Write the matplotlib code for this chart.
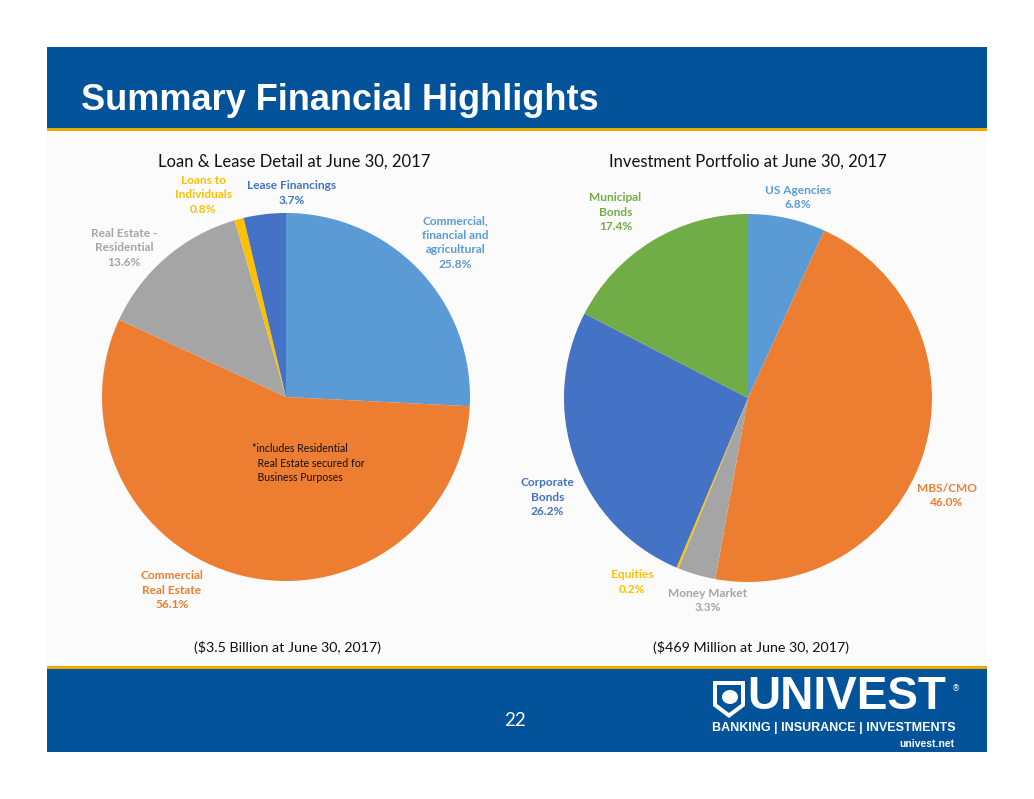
import matplotlib.pyplot as plt
from matplotlib.patches import Rectangle, Polygon, Ellipse

W, H = 1034, 799

# loan & lease mix (%)
loan_labels = ['Commercial,\nfinancial and\nagricultural', 'Commercial\nReal Estate',
               'Real Estate -\nResidential', 'Loans to\nIndividuals', 'Lease Financings']
loan_values = [25.8, 56.1, 13.6, 0.8, 3.7]

# investment portfolio mix (%)
inv_labels = ['US Agencies', 'MBS/CMO', 'Money Market', 'Equities',
              'Corporate\nBonds', 'Municipal\nBonds']
inv_values = [6.8, 46.0, 3.3, 0.2, 26.2, 17.4]

loan_colors = ['#5B9BD5', '#ED7D31', '#A5A5A5', '#FFC000', '#4472C4']
inv_colors = ['#5B9BD5', '#ED7D31', '#A5A5A5', '#FFC000', '#4472C4', '#70AD47']

# label centres, measured in pie radii from the centre
loan_label_pos = [(0.92, 0.84), (-0.62, -1.05), (-0.88, 0.81), (-0.45, 1.10), (0.03, 1.11)]
inv_label_pos = [(0.27, 1.09), (1.08, -0.53), (-0.22, -1.10), (-0.63, -1.00), (-1.09, -0.54), (-0.72, 1.01)]

BLUE = '#02539A'
GOLD = '#EEA900'
FONT = 'Lato'

fig = plt.figure(figsize=(W / 100, H / 100), dpi=100)

# page background, bands and texts in pixel coordinates
bg = fig.add_axes([0, 0, 1, 1])
bg.set_xlim(0, W)
bg.set_ylim(H, 0)
bg.axis('off')

bg.add_patch(Rectangle((47, 131), 940, 537, color='#fbfbfb', lw=0))
bg.add_patch(Rectangle((47, 47), 940, 82, color=BLUE, lw=0))
bg.add_patch(Rectangle((47, 128), 940, 3, color=GOLD, lw=0))
bg.add_patch(Rectangle((47, 666), 940, 3, color=GOLD, lw=0))
bg.add_patch(Rectangle((47, 669), 940, 83, color=BLUE, lw=0))

bg.text(81, 100, 'Summary Financial Highlights', color='white', fontsize=26,
        fontweight='bold', family='Liberation Sans', va='center', ha='left')

bg.text(294, 162, 'Loan & Lease Detail at June 30, 2017', fontsize=12,
        family=FONT, ha='center', va='center', color='#111111')
bg.text(748, 162, 'Investment Portfolio at June 30, 2017', fontsize=12,
        family=FONT, ha='center', va='center', color='#111111')

bg.text(287, 648, '($3.5 Billion at June 30, 2017)', fontsize=10.3,
        family=FONT, ha='center', va='center', color='#111111')
bg.text(751, 648, '($469 Million at June 30, 2017)', fontsize=10.3,
        family=FONT, ha='center', va='center', color='#111111')

bg.text(515, 720, '22', fontsize=13.5, family=FONT, color='white', ha='center', va='center')

# logo
bg.add_patch(Polygon([(713, 681), (745, 681), (745, 706), (729, 718), (713, 706)],
                     closed=True, color='white', lw=0))
bg.add_patch(Polygon([(717, 685), (741, 685), (741, 704), (729, 713), (717, 704)],
                     closed=True, color=BLUE, lw=0))
bg.add_patch(Ellipse((730, 697), 16, 14, color='white', lw=0))
bg.text(747, 697, 'UNIVEST', fontsize=33, fontweight='heavy', family='Liberation Sans',
        color='white', ha='left', va='center')
bg.text(956, 689, '®', fontsize=6, family='DejaVu Sans', color='white', ha='center', va='center')
bg.text(834, 728, 'BANKING | INSURANCE | INVESTMENTS', fontsize=9, fontweight='bold',
        family='Liberation Sans', color='white', ha='center', va='center')
bg.text(955, 744, 'univest.net', fontsize=7.5, fontweight='bold',
        family='Liberation Sans', color='white', ha='right', va='center')


def pie_axes(cx, cy, r, lim=1.45):
    half = r * lim
    ax = fig.add_axes([(cx - half) / W, (H - cy - half) / H, 2 * half / W, 2 * half / H])
    return ax


def draw_pie(ax, values, labels, colors, label_pos):
    ax.pie(values, colors=colors, startangle=90, counterclock=False, radius=1,
           wedgeprops=dict(linewidth=0))
    ax.set_xlim(-1.45, 1.45)
    ax.set_ylim(-1.45, 1.45)
    ax.set_aspect('equal')
    ax.axis('off')
    for lab, val, col, (x, y) in zip(labels, values, colors, label_pos):
        ax.text(x, y, f'{lab}\n{val:.1f}%', color=col, fontsize=8.6, fontweight='bold',
                family=FONT, ha='center', va='center', linespacing=1.4)


ax1 = pie_axes(286, 397, 184)
draw_pie(ax1, loan_values, loan_labels, loan_colors, loan_label_pos)
ax1.text(-0.185, -0.36, '*includes Residential\n  Real Estate secured for\n  Business Purposes',
         fontsize=7.6, family=FONT, ha='left', va='center', color='#111111', linespacing=1.4)

ax2 = pie_axes(748, 398, 184)
draw_pie(ax2, inv_values, inv_labels, inv_colors, inv_label_pos)

fig.savefig('out.png', dpi=100)
